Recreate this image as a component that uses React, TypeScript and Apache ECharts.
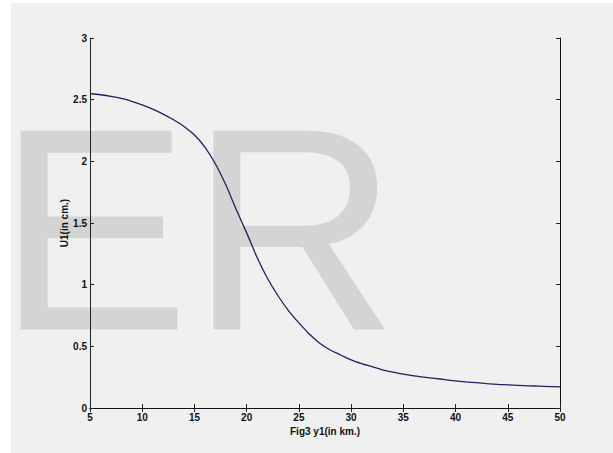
import React, { useEffect, useRef } from "react";
import * as echarts from "echarts";

const xValues = [
  5, 6, 7, 8, 9, 10, 11, 12, 13, 14, 15, 16, 17, 18, 19, 20, 21, 22, 23, 24, 25, 26, 27,
  28, 29, 30, 31, 32, 33, 34, 35, 36, 37, 38, 39, 40, 41, 42, 43, 44, 45, 46, 47, 48, 49, 50,
];
const u1Values = [
  2.55, 2.54, 2.527, 2.51, 2.487, 2.458, 2.423, 2.383, 2.337, 2.283, 2.213, 2.115, 1.98, 1.81,
  1.61, 1.42, 1.22, 1.05, 0.91, 0.79, 0.69, 0.6, 0.525, 0.47, 0.43, 0.39, 0.36, 0.335, 0.31,
  0.29, 0.275, 0.26, 0.25, 0.24, 0.23, 0.22, 0.212, 0.205, 0.198, 0.192, 0.188, 0.184, 0.18,
  0.177, 0.174, 0.172,
];
const xAxisTitle = "Fig3 y1(in km.)";
const yAxisTitle = "U1(in cm.)";
const watermarkText = "ER";

export default function App() {
  const ref = useRef<HTMLDivElement>(null);
  useEffect(() => {
    document.body.style.margin = "0";
    if (!ref.current) return;
    const chart = echarts.init(ref.current, undefined, { renderer: "svg" });
    const labelFont = {
      fontFamily: "Liberation Sans",
      fontSize: 10,
      fontWeight: "bold" as const,
      color: "#111",
    };
    const lineStyle = { color: "#222", width: 1 };
    chart.setOption({
      animation: false,
      backgroundColor: "#ffffff",
      graphic: [
        {
          type: "rect",
          z: -100,
          silent: true,
          shape: { x: 11, y: 3, width: 613, height: 460 },
          style: { fill: "#f0f0f0" },
        },
        {
          type: "text",
          z: -50,
          silent: true,
          x: -3,
          y: 229,
          style: {
            text: watermarkText,
            font: "289px 'Liberation Sans'",
            fill: "#d4d4d4",
            textAlign: "left",
            textVerticalAlign: "middle",
          },
        },
      ],
      grid: { left: 90, right: 53, top: 38, bottom: 45, containLabel: false },
      xAxis: [
        {
          type: "value",
          position: "bottom",
          min: 5,
          max: 50,
          interval: 5,
          name: xAxisTitle,
          nameLocation: "middle",
          nameGap: 18,
          nameMoveOverlap: false,
          nameTextStyle: labelFont,
          axisLine: { lineStyle },
          axisTick: { inside: true, length: 4, lineStyle },
          axisLabel: { ...labelFont, margin: 4 },
          splitLine: { show: false },
        },
        {
          type: "value",
          position: "top",
          min: 5,
          max: 50,
          interval: 5,
          axisLine: { lineStyle: { color: "#111", width: 1 } },
          axisTick: { inside: true, length: 4, lineStyle },
          axisLabel: { show: false },
          splitLine: { show: false },
        },
      ],
      yAxis: [
        {
          type: "value",
          position: "left",
          min: 0,
          max: 3,
          interval: 0.5,
          name: yAxisTitle,
          nameLocation: "middle",
          nameGap: 21,
          nameMoveOverlap: false,
          nameTextStyle: labelFont,
          axisLine: { show: true, lineStyle },
          axisTick: { show: true, inside: true, length: 4, lineStyle },
          axisLabel: { ...labelFont, margin: 3 },
          splitLine: { show: false },
        },
        {
          type: "value",
          position: "right",
          min: 0,
          max: 3,
          interval: 0.5,
          axisLine: { show: true, lineStyle: { color: "#111", width: 1 } },
          axisTick: { show: true, inside: true, length: 4, lineStyle },
          axisLabel: { show: false },
          splitLine: { show: false },
        },
      ],
      series: [
        {
          type: "line",
          xAxisIndex: 0,
          yAxisIndex: 0,
          data: xValues.map((x, i) => [x, u1Values[i]]),
          showSymbol: false,
          smooth: 0.3,
          lineStyle: { color: "#20205e", width: 1.3 },
          z: 5,
        },
      ],
    });
    return () => chart.dispose();
  }, []);
  return <div ref={ref} style={{ width: 613, height: 453 }} />;
}
